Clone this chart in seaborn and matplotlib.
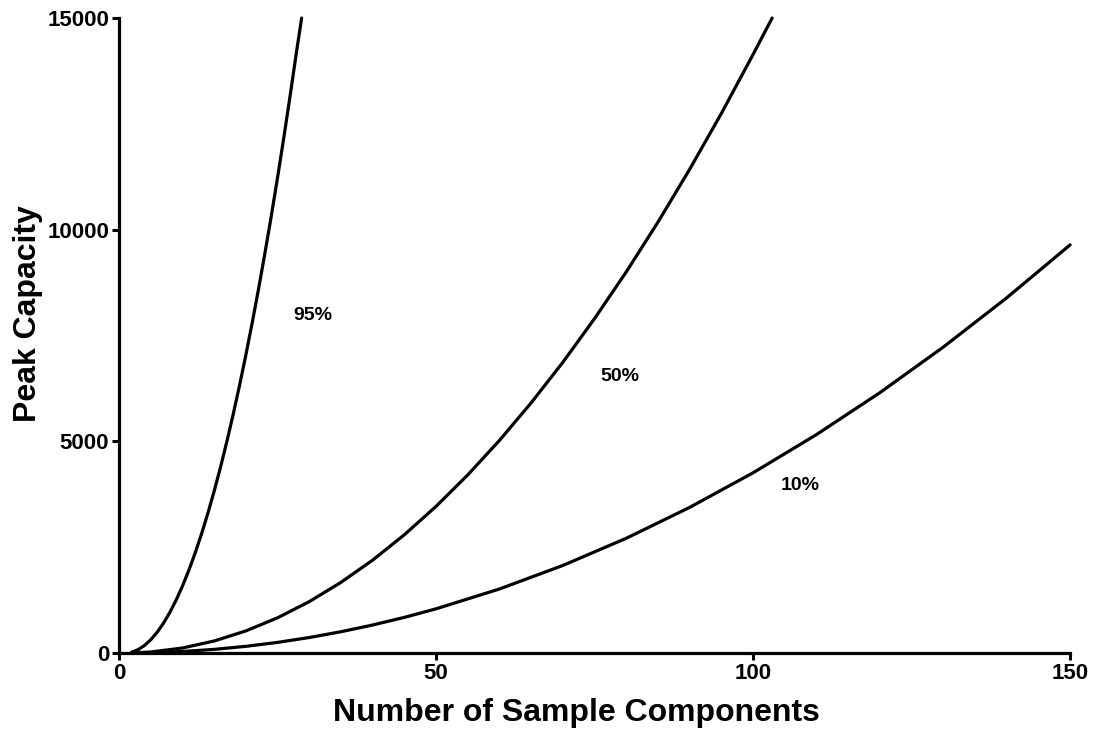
import matplotlib
matplotlib.use("Agg")
import matplotlib.pyplot as plt
import seaborn as sns
import pandas as pd

# Peak capacity required to separate all components with a given probability
comp_95 = [2, 3, 4, 5, 6, 7, 8, 9, 10, 11, 12, 13, 14, 15, 16, 17, 18, 19, 20, 21, 22, 23, 24, 25,
           26, 27, 28, 28.8]
cap_95 = [20, 78, 175, 312, 487, 702, 955, 1248, 1579, 1950, 2359, 2808, 3295, 3821, 4387, 4991,
          5634, 6317, 7038, 7799, 8598, 9437, 10313, 11230, 12185, 13180, 14212, 15000]

comp_50 = [2, 5, 10, 15, 20, 25, 30, 35, 40, 45, 50, 55, 60, 65, 70, 75, 80, 85, 90, 95, 100, 103]
cap_50 = [1, 23, 117, 283, 521, 831, 1213, 1668, 2194, 2793, 3464, 4207, 5022, 5910, 6869, 7901,
          9004, 10180, 11428, 12748, 14141, 15000]

comp_10 = [2, 5, 10, 15, 20, 25, 30, 35, 40, 45, 50, 60, 70, 80, 90, 100, 110, 120, 130, 140, 150]
cap_10 = [0, 7, 35, 85, 157, 250, 365, 502, 661, 841, 1043, 1512, 2068, 2710, 3440, 4257, 5160,
          6150, 7227, 8391, 9642]

curve_labels = ["95%", "50%", "10%"]
label_x = [30.6, 79.0, 107.5]
label_y = [7984, 6520, 3945]

x_ticks = [0, 50, 100, 150]
y_ticks = [0, 5000, 10000, 15000]

sns.set_style("ticks")
plt.rcParams["font.family"] = ["Liberation Sans", "DejaVu Sans"]
plt.rcParams["font.weight"] = "bold"
plt.rcParams["text.color"] = "black"
plt.rcParams["axes.labelcolor"] = "black"
plt.rcParams["xtick.color"] = "black"
plt.rcParams["ytick.color"] = "black"

fig = plt.figure(figsize=(10.94, 7.36), dpi=100)
ax = fig.add_axes([0.1088, 0.1128, 0.8694, 0.8627])

frames = [
    pd.DataFrame({"components": comp_95, "capacity": cap_95}),
    pd.DataFrame({"components": comp_50, "capacity": cap_50}),
    pd.DataFrame({"components": comp_10, "capacity": cap_10}),
]
for df in frames:
    sns.lineplot(data=df, x="components", y="capacity", ax=ax, color="black",
                 linewidth=2.3, sort=False, estimator=None, legend=False, clip_on=False)

for txt, tx, ty in zip(curve_labels, label_x, label_y):
    ax.text(tx, ty, txt, ha="center", va="center", fontsize=14, fontweight="bold", color="black")

ax.set_xlim(0, 150)
ax.set_ylim(0, 15000)
ax.set_xticks(x_ticks)
ax.set_yticks(y_ticks)
ax.set_xticklabels([str(v) for v in x_ticks], fontsize=16, fontweight="bold", color="black")
ax.set_yticklabels([str(v) for v in y_ticks], fontsize=16, fontweight="bold", color="black")
ax.tick_params(axis="both", direction="out", length=5, width=2.2, pad=2, color="black")

ax.set_xlabel("Number of Sample Components", fontsize=23, fontweight="bold", color="black",
              va="center", ha="center")
ax.set_ylabel("Peak Capacity", fontsize=23, fontweight="bold", color="black",
              va="center", ha="center")
ax.xaxis.set_label_coords(0.4805, -0.0945)
ax.yaxis.set_label_coords(-0.0952, 0.534)

sns.despine(ax=ax)
for side in ("left", "bottom"):
    ax.spines[side].set_linewidth(2.3)
    ax.spines[side].set_color("black")

fig.savefig("out.png", dpi=100)
